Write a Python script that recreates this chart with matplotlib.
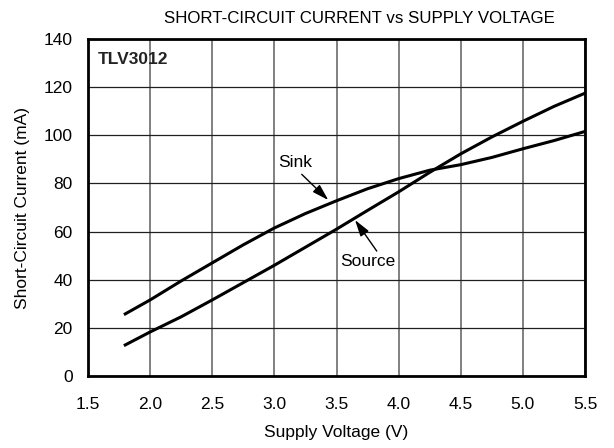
import matplotlib.pyplot as plt

plt.rcParams['font.family'] = ['Liberation Sans', 'DejaVu Sans']

voltage = [1.8, 2.0, 2.25, 2.5, 2.75, 3.0, 3.25, 3.5, 3.75, 4.0, 4.25, 4.5, 4.75, 5.0, 5.25, 5.5]
sink = [25.8, 31.6, 39.5, 47.0, 54.5, 61.5, 67.5, 72.8, 77.8, 82.0, 85.5, 87.8, 90.8, 94.4, 97.8, 101.6]
source = [12.9, 18.3, 24.6, 31.6, 38.8, 46.0, 53.5, 61.0, 68.8, 76.5, 84.6, 92.3, 99.3, 105.8, 112.0, 117.5]

x_ticks = [1.5, 2.0, 2.5, 3.0, 3.5, 4.0, 4.5, 5.0, 5.5]
y_ticks = [0, 20, 40, 60, 80, 100, 120, 140]


def main():
    fig = plt.figure(figsize=(6.14, 4.48), dpi=100)
    ax = fig.add_axes([0.1433, 0.1607, 0.8095, 0.7522])

    ax.plot(voltage, sink, '-', color='black', lw=2.2)
    ax.plot(voltage, source, '-', color='black', lw=2.2)

    ax.set_xlim(1.5, 5.5)
    ax.set_ylim(0, 140)
    ax.set_xticks(x_ticks)
    ax.set_xticklabels([f"{v:.1f}" for v in x_ticks])
    ax.set_yticks(y_ticks)
    ax.xaxis.grid(True, color='#808080', lw=1.4)
    ax.yaxis.grid(True, color='#202020', lw=0.9)
    ax.set_axisbelow(True)
    ax.tick_params(axis='x', length=0, labelsize=12.5, pad=15)
    ax.tick_params(axis='y', length=0, labelsize=12.5, pad=11)
    for s in ax.spines.values():
        s.set_linewidth(2)
        s.set_color('black')

    ax.set_title("SHORT-CIRCUIT CURRENT vs SUPPLY VOLTAGE", fontsize=12.2, pad=11.5, x=0.547)
    ax.set_xlabel("Supply Voltage (V)", fontsize=12.5, labelpad=9.5)
    ax.set_ylabel("Short-Circuit Current (mA)", fontsize=12.5, labelpad=9.6)

    ax.text(0.02, 0.94, "TLV3012", transform=ax.transAxes, fontsize=12.5,
            fontweight='bold', va='center', ha='left', color='#222222')

    arrow = dict(arrowstyle='-|>,head_length=1.0,head_width=0.3', color='black',
                 lw=1, shrinkA=0, shrinkB=0, mutation_scale=10)
    ax.text(3.168, 88.7, "Sink", fontsize=12.5, ha='center', va='center')
    ax.annotate("", xy=(3.434, 73.1), xytext=(3.22, 83.8), arrowprops=arrow)
    ax.text(3.748, 47.5, "Source", fontsize=12.5, ha='center', va='center')
    ax.annotate("", xy=(3.649, 64.8), xytext=(3.824, 51.9), arrowprops=arrow)

    plt.savefig('out.png')


if __name__ == '__main__':
    main()
